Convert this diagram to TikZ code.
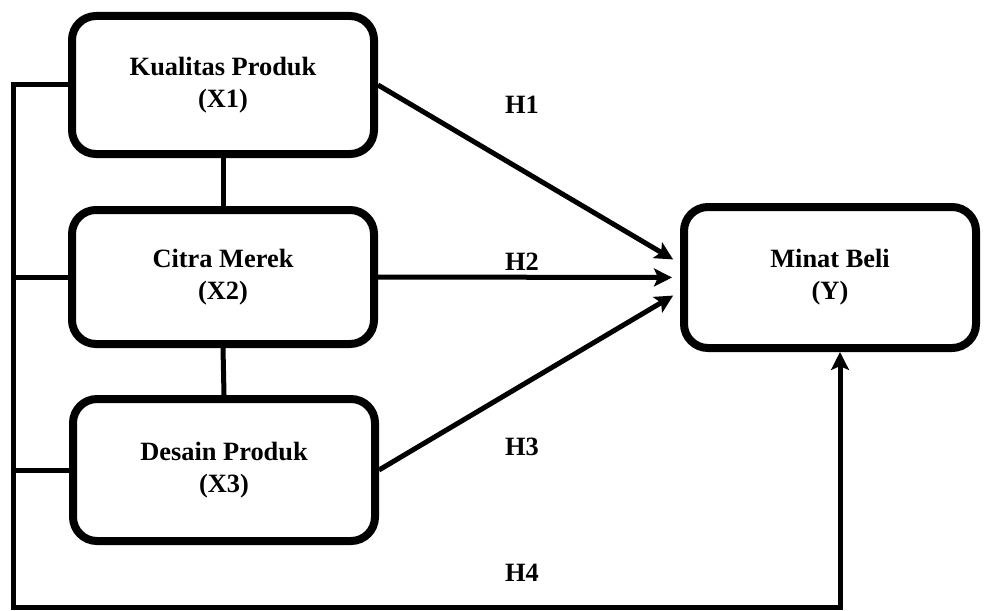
\documentclass[tikz,border=0pt]{standalone}
\usepackage{fontspec}
\setmainfont{Liberation Serif}
\usetikzlibrary{arrows.meta}

\begin{document}
\begin{tikzpicture}[x=0.5pt, y=-0.5pt,
    every node/.style={font=\fontsize{13.2}{16}\selectfont\bfseries},
    box/.style={draw, line width=4pt, rounded corners=12pt, fill=white, align=center, minimum width=151pt},
    link/.style={line width=2.5pt},
    hyp/.style={line width=2.5pt, -{Stealth[length=9pt, width=9pt, inset=2pt]}, shorten >=4pt}]
    % 1. canvas
    \useasboundingbox (0,0) rectangle (988,610);

    % 2. the four variables
    \node[box, minimum height=69pt] (kualitas) at (223,85) {Kualitas Produk\\(X1)};
    \node[box, minimum height=67pt] (citra) at (223,277) {Citra Merek\\(X2)};
    \node[box, minimum height=71pt] (desain) at (224,470) {Desain Produk\\(X3)};
    \node[box, minimum height=70.5pt, minimum width=146pt] (minat) at (830,277.5) {Minat Beli\\(Y)};

    % 3. lines between the X boxes and the bus on the left
    \coordinate (bus) at (13,0);
    \coordinate (low) at (840,607);
    \draw[link] (kualitas.south) -- (citra.north);
    \draw[link] (citra.south) -- (desain.north);
    \draw[link] (citra.west) -- (citra.west -| bus);
    \draw[link] (desain.west) -- (desain.west -| bus);

    % 4. hypotheses H1 - H3
    \draw[hyp] (kualitas.east) -- ([yshift=7pt]minat.west);
    \draw[hyp] (citra.east) -- (minat.west);
    \draw[hyp] (desain.east) -- ([yshift=-7pt]minat.west);

    % 5. joint path H4
    \draw[hyp, shorten >=0pt, line join=miter] (kualitas.west) -| (low -| bus) -- (low) -- (minat.south -| low);

    % 6. labels
    \node (h1) at (522,105) {H1};
    \node (h2) at (522,262) {H2};
    \node (h3) at (522,447) {H3};
    \node (h4) at (522,573) {H4};
\end{tikzpicture}
\end{document}
